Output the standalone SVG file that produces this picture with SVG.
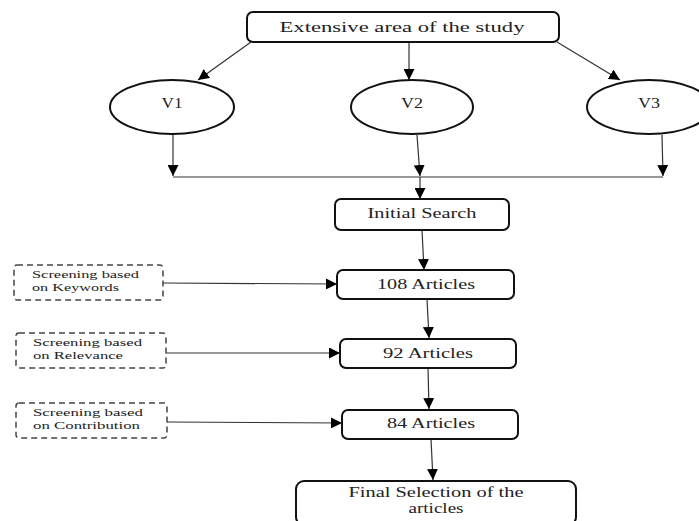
<svg xmlns="http://www.w3.org/2000/svg" width="699" height="521" viewBox="0 0 699 521">
<style>
text{font-family:'Liberation Serif','Tinos','DejaVu Serif','Times New Roman',serif;fill:#222;}
.box{fill:#fff;stroke:#111;stroke-width:2;}
.dash{fill:#fff;stroke:#444;stroke-width:1.5;stroke-dasharray:6 4;}
.t{font-size:15px;text-anchor:middle;}
.s{font-size:10.5px;}
.c{fill:none;stroke:#333;stroke-width:1.2;}
.a{marker-end:url(#ah);}
</style>
<defs>
<marker id="ah" markerUnits="userSpaceOnUse" markerWidth="11" markerHeight="11" viewBox="0 0 10 10" refX="10" refY="5" orient="auto">
<path d="M0,0 L10,5 L0,10 z" fill="#000"/>
</marker>
</defs>
<rect width="699" height="521" fill="#fff"/>
<g id="connectors">
<line class="c a" x1="251" y1="42" x2="198" y2="80"/>
<line class="c a" x1="409" y1="43" x2="409" y2="80"/>
<line class="c a" x1="557" y1="42" x2="620" y2="80"/>
<line class="c a" x1="173" y1="135" x2="173" y2="176"/>
<line class="c a" x1="417" y1="135" x2="420" y2="176"/>
<line class="c a" x1="662" y1="135" x2="663" y2="176"/>
<line class="c" x1="173" y1="177" x2="663" y2="177"/>
<line class="c a" x1="420" y1="177" x2="420" y2="199"/>
<line class="c a" x1="422" y1="230" x2="424" y2="270"/>
<line class="c a" x1="427" y1="299" x2="429" y2="338"/>
<line class="c a" x1="428" y1="368" x2="429" y2="409"/>
<line class="c a" x1="431" y1="439" x2="433" y2="480"/>
<line class="c a" x1="163" y1="283" x2="337" y2="284"/>
<line class="c a" x1="166" y1="353" x2="340" y2="353"/>
<line class="c a" x1="167" y1="422" x2="342" y2="423"/>
</g>
<g id="top">
<rect class="box" x="247" y="12" width="312" height="30" rx="6"/>
<text class="t" x="402" y="32" textLength="245" lengthAdjust="spacingAndGlyphs">Extensive area of the study</text>
</g>
<g id="v1">
<ellipse class="box" cx="172" cy="107" rx="62" ry="27"/>
<text class="t" x="172" y="108" textLength="21" lengthAdjust="spacingAndGlyphs">V1</text>
</g>
<g id="v2">
<ellipse class="box" cx="412" cy="107" rx="61" ry="27"/>
<text class="t" x="412" y="108" textLength="22" lengthAdjust="spacingAndGlyphs">V2</text>
</g>
<g id="v3">
<ellipse class="box" cx="649" cy="107" rx="62" ry="27"/>
<text class="t" x="649" y="108" textLength="22" lengthAdjust="spacingAndGlyphs">V3</text>
</g>
<g id="initial">
<rect class="box" x="335" y="199" width="174" height="31" rx="6"/>
<text class="t" x="422" y="218" textLength="109" lengthAdjust="spacingAndGlyphs">Initial Search</text>
</g>
<g id="a108">
<rect class="box" x="337" y="270" width="177" height="29" rx="6"/>
<text class="t" x="426" y="289" textLength="98" lengthAdjust="spacingAndGlyphs">108 Articles</text>
</g>
<g id="a92">
<rect class="box" x="340" y="339" width="176" height="29" rx="6"/>
<text class="t" x="428" y="358" textLength="90" lengthAdjust="spacingAndGlyphs">92 Articles</text>
</g>
<g id="a84">
<rect class="box" x="342" y="410" width="176" height="29" rx="6"/>
<text class="t" x="431" y="428" textLength="88" lengthAdjust="spacingAndGlyphs">84 Articles</text>
</g>
<g id="final">
<rect class="box" x="296" y="481" width="280" height="44" rx="8"/>
<text class="t" x="436" y="497" textLength="175" lengthAdjust="spacingAndGlyphs">Final Selection of the</text>
<text class="t" x="436" y="513" textLength="55" lengthAdjust="spacingAndGlyphs">articles</text>
</g>
<g id="s1">
<rect class="dash" x="14" y="265" width="149" height="35" rx="3"/>
<text class="s" x="32" y="278" textLength="107" lengthAdjust="spacingAndGlyphs">Screening based</text>
<text class="s" x="32" y="291" textLength="87" lengthAdjust="spacingAndGlyphs">on Keywords</text>
</g>
<g id="s2">
<rect class="dash" x="16" y="333" width="150" height="35" rx="3"/>
<text class="s" x="33" y="346" textLength="109" lengthAdjust="spacingAndGlyphs">Screening based</text>
<text class="s" x="33" y="359" textLength="90" lengthAdjust="spacingAndGlyphs">on Relevance</text>
</g>
<g id="s3">
<rect class="dash" x="16" y="403" width="151" height="35" rx="3"/>
<text class="s" x="33" y="416" textLength="110" lengthAdjust="spacingAndGlyphs">Screening based</text>
<text class="s" x="33" y="429" textLength="107" lengthAdjust="spacingAndGlyphs">on Contribution</text>
</g>
</svg>
